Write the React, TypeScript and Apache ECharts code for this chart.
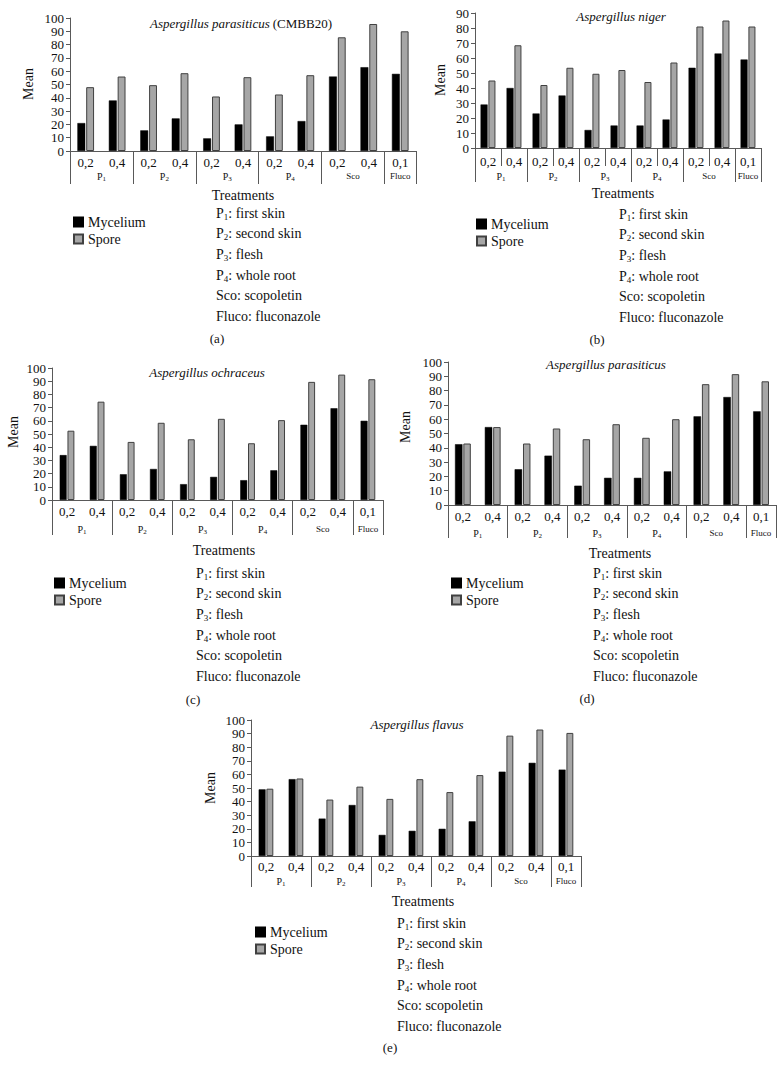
import React, { useEffect, useRef } from "react";
import * as echarts from "echarts";

// ---------- data ----------
const categories = ["0,2", "0,4", "0,2", "0,4", "0,2", "0,4", "0,2", "0,4", "0,2", "0,4", "0,1"];
const groupNames = ["P1", "P2", "P3", "P4", "Sco", "Fluco"];
const groupEdges = [0, 2, 4, 6, 8, 10, 11];
const groupMids = [1, 3, 5, 7, 9, 10.5];
const seriesNames = ["Mycelium", "Spore"];

const panelTitles = [
  "{i|Aspergillus parasiticus} {n|(CMBB20)}",
  "{i|Aspergillus niger}",
  "{i|Aspergillus ochraceus}",
  "{i|Aspergillus parasiticus}",
  "{i|Aspergillus flavus}",
];
const panelLetters = ["(a)", "(b)", "(c)", "(d)", "(e)"];
const yMaxes = [100, 90, 100, 100, 100];

const myceliumA = [21, 38, 15.5, 24.5, 9.5, 20, 11, 22.5, 56, 63, 58];
const sporeA = [48, 56, 49.5, 58.5, 41, 55.5, 42.5, 57, 85.5, 95.5, 90];
const myceliumB = [29, 40, 23, 35, 12, 15, 15, 19, 53.5, 63, 59];
const sporeB = [45, 68.5, 42, 53.5, 49.5, 52, 44, 57, 81, 85, 81];
const myceliumC = [34, 41, 19.5, 23.5, 12, 17.5, 15, 22.5, 57, 69.5, 60];
const sporeC = [52.5, 74.5, 44, 58.5, 46, 61.5, 43, 60.5, 89.5, 95, 91.5];
const myceliumD = [42.5, 54.5, 25, 34.5, 13.5, 19, 19, 23.5, 62, 75.5, 65.5];
const sporeD = [43, 54.5, 43, 53.5, 46, 56.5, 47, 60, 84.5, 91.5, 86.5];
const myceliumE = [49, 56.5, 27.5, 37.5, 15.5, 18.5, 20, 25.5, 62, 68.5, 63.5];
const sporeE = [49.5, 57, 41.5, 51, 42, 56.5, 47, 59.5, 88.5, 93, 90.5];

const myceliumAll = [myceliumA, myceliumB, myceliumC, myceliumD, myceliumE];
const sporeAll = [sporeA, sporeB, sporeC, sporeD, sporeE];

const legendLines = [
  ["P", "1", ": first skin"],
  ["P", "2", ": second skin"],
  ["P", "3", ": flesh"],
  ["P", "4", ": whole root"],
  ["Sco: scopoletin", "", ""],
  ["Fluco: fluconazole", "", ""],
];

// ---------- layout ----------
const layouts = [
  { left: 70, top: 18, width: 346, height: 133, catMargin: 5, groupMargin: 19, groupTick: 33, catTick: 0, barWidth: "25%",
    title: [241, 23], mean: [28, 84], treat: [243, 195], note: [216, 213], letter: [217, 338], legend: [68, 209] },
  { left: 475, top: 13, width: 286, height: 135, catMargin: 7, groupMargin: 22, groupTick: 34, catTick: 18, barWidth: "27%",
    title: [621, 16], mean: [440, 80], treat: [623, 193], note: [619, 214], letter: [597, 339], legend: [471, 211] },
  { left: 52, top: 368, width: 331, height: 132, catMargin: 5, groupMargin: 23, groupTick: 35, catTick: 0, barWidth: "23%",
    title: [207, 372], mean: [13, 432], treat: [224, 550], note: [196, 573], letter: [193, 699], legend: [49, 570] },
  { left: 448, top: 362, width: 328, height: 143, catMargin: 5, groupMargin: 22, groupTick: 33, catTick: 0, barWidth: "25%",
    title: [606, 364], mean: [405, 427], treat: [620, 553], note: [593, 573], letter: [587, 698], legend: [446, 570] },
  { left: 251, top: 720, width: 330, height: 136, catMargin: 4, groupMargin: 19, groupTick: 31, catTick: 0, barWidth: "23%",
    title: [417, 724], mean: [210, 788], treat: [423, 901], note: [397, 923], letter: [390, 1047], legend: [250, 919] },
];

const FONT = "'Liberation Serif', 'DejaVu Serif', serif";
const AXIS = "#595959";

function buildOption() {
  const grids: any[] = [];
  const xAxes: any[] = [];
  const yAxes: any[] = [];
  const series: any[] = [];
  const legends: any[] = [];
  const graphics: any[] = [];

  layouts.forEach((L, p) => {
    grids.push({ left: L.left, top: L.top, width: L.width, height: L.height, containLabel: false });
    xAxes.push({
      type: "category",
      gridIndex: p,
      data: categories,
      boundaryGap: true,
      axisLine: { show: true, lineStyle: { color: AXIS, width: 1 } },
      axisTick: { show: L.catTick > 0, length: L.catTick, interval: 0, lineStyle: { color: AXIS } },
      axisLabel: { interval: 0, margin: L.catMargin, fontFamily: FONT, fontSize: 13, color: "#111" },
      splitLine: { show: false },
    });
    xAxes.push({
      type: "value",
      gridIndex: p,
      min: 0,
      max: 11,
      position: "bottom",
      axisLine: { show: false },
      axisTick: { show: true, customValues: groupEdges, length: L.groupTick, lineStyle: { color: AXIS } },
      axisLabel: {
        show: true,
        customValues: groupMids,
        margin: L.groupMargin,
        fontFamily: FONT,
        color: "#111",
        formatter: (v: number) => {
          const idx = groupMids.indexOf(v);
          const name = groupNames[idx] || "";
          if (/^P\d$/.test(name)) return "{b|P}{s|" + name[1] + "}";
          return "{c|" + name + "}";
        },
        rich: {
          b: { fontFamily: FONT, fontSize: 10, lineHeight: 12, color: "#111" },
          s: { fontFamily: FONT, fontSize: 7, lineHeight: 5, verticalAlign: "bottom", color: "#111" },
          c: { fontFamily: FONT, fontSize: 9, lineHeight: 12, color: "#111" },
        },
      },
      splitLine: { show: false },
    });
    yAxes.push({
      type: "value",
      gridIndex: p,
      min: 0,
      max: yMaxes[p],
      interval: 10,
      axisLine: { show: true, lineStyle: { color: AXIS } },
      axisTick: { show: true, length: 4, lineStyle: { color: AXIS } },
      axisLabel: { margin: 6, fontFamily: FONT, fontSize: 13, color: "#111" },
      splitLine: { show: false },
    });
    series.push({
      type: "bar",
      name: seriesNames[0],
      xAxisIndex: p * 2,
      yAxisIndex: p,
      data: myceliumAll[p],
      barWidth: L.barWidth,
      barGap: "12%",
      itemStyle: { color: "#000000", borderColor: "#000000", borderWidth: 0.5 },
    });
    series.push({
      type: "bar",
      name: seriesNames[1],
      xAxisIndex: p * 2,
      yAxisIndex: p,
      data: sporeAll[p],
      barWidth: L.barWidth,
      barGap: "12%",
      itemStyle: { color: "#a6a6a6", borderColor: "#404040", borderWidth: 1 },
    });
    legends.push({
      data: seriesNames,
      orient: "vertical",
      left: L.legend[0],
      top: L.legend[1],
      icon: "rect",
      itemWidth: 9,
      itemHeight: 9,
      itemGap: 1,
      selectedMode: false,
      textStyle: { fontFamily: FONT, fontSize: 14, color: "#111", lineHeight: 16 },
    });

    graphics.push({
      type: "text",
      x: L.title[0],
      y: L.title[1],
      style: {
        text: panelTitles[p],
        align: "center",
        verticalAlign: "middle",
        fontFamily: FONT,
        rich: {
          i: { fontFamily: FONT, fontSize: 13, fontStyle: "italic", fill: "#111" },
          n: { fontFamily: FONT, fontSize: 13, fill: "#111" },
        },
      },
    });
    graphics.push({
      type: "text",
      x: L.mean[0],
      y: L.mean[1],
      rotation: Math.PI / 2,
      style: { text: "Mean", align: "center", verticalAlign: "middle", fontFamily: FONT, fontSize: 14, fill: "#111" },
    });
    graphics.push({
      type: "text",
      x: L.treat[0],
      y: L.treat[1],
      style: { text: "Treatments", align: "center", verticalAlign: "middle", fontFamily: FONT, fontSize: 14, fill: "#111" },
    });
    graphics.push({
      type: "text",
      x: L.letter[0],
      y: L.letter[1],
      style: { text: panelLetters[p], align: "center", verticalAlign: "middle", fontFamily: FONT, fontSize: 13, fill: "#111" },
    });
    legendLines.forEach((ln, i) => {
      const txt = ln[1] ? "{n|" + ln[0] + "}{s|" + ln[1] + "}{n|" + ln[2] + "}" : "{n|" + ln[0] + "}";
      graphics.push({
        type: "text",
        x: L.note[0],
        y: L.note[1] + i * 20.7,
        style: {
          text: txt,
          align: "left",
          verticalAlign: "middle",
          fontFamily: FONT,
          fontSize: 14,
          rich: {
            n: { fontFamily: FONT, fontSize: 14, lineHeight: 16, fill: "#111" },
            s: { fontFamily: FONT, fontSize: 9, lineHeight: 7, verticalAlign: "bottom", fill: "#111" },
          },
        },
      });
    });
  });

  return {
    animation: false,
    backgroundColor: "#ffffff",
    textStyle: { fontFamily: FONT },
    grid: grids,
    xAxis: xAxes,
    yAxis: yAxes,
    series,
    legend: legends,
    graphic: graphics,
  };
}

export default function App() {
  const ref = useRef<HTMLDivElement>(null);
  useEffect(() => {
    if (!ref.current) return;
    const chart = echarts.init(ref.current, undefined, { renderer: "svg" });
    chart.setOption(buildOption() as any);
    return () => chart.dispose();
  }, []);
  return (
    <div
      ref={ref}
      style={{ position: "absolute", left: 0, top: 0, width: 784, height: 1074, background: "#fff" }}
    />
  );
}
